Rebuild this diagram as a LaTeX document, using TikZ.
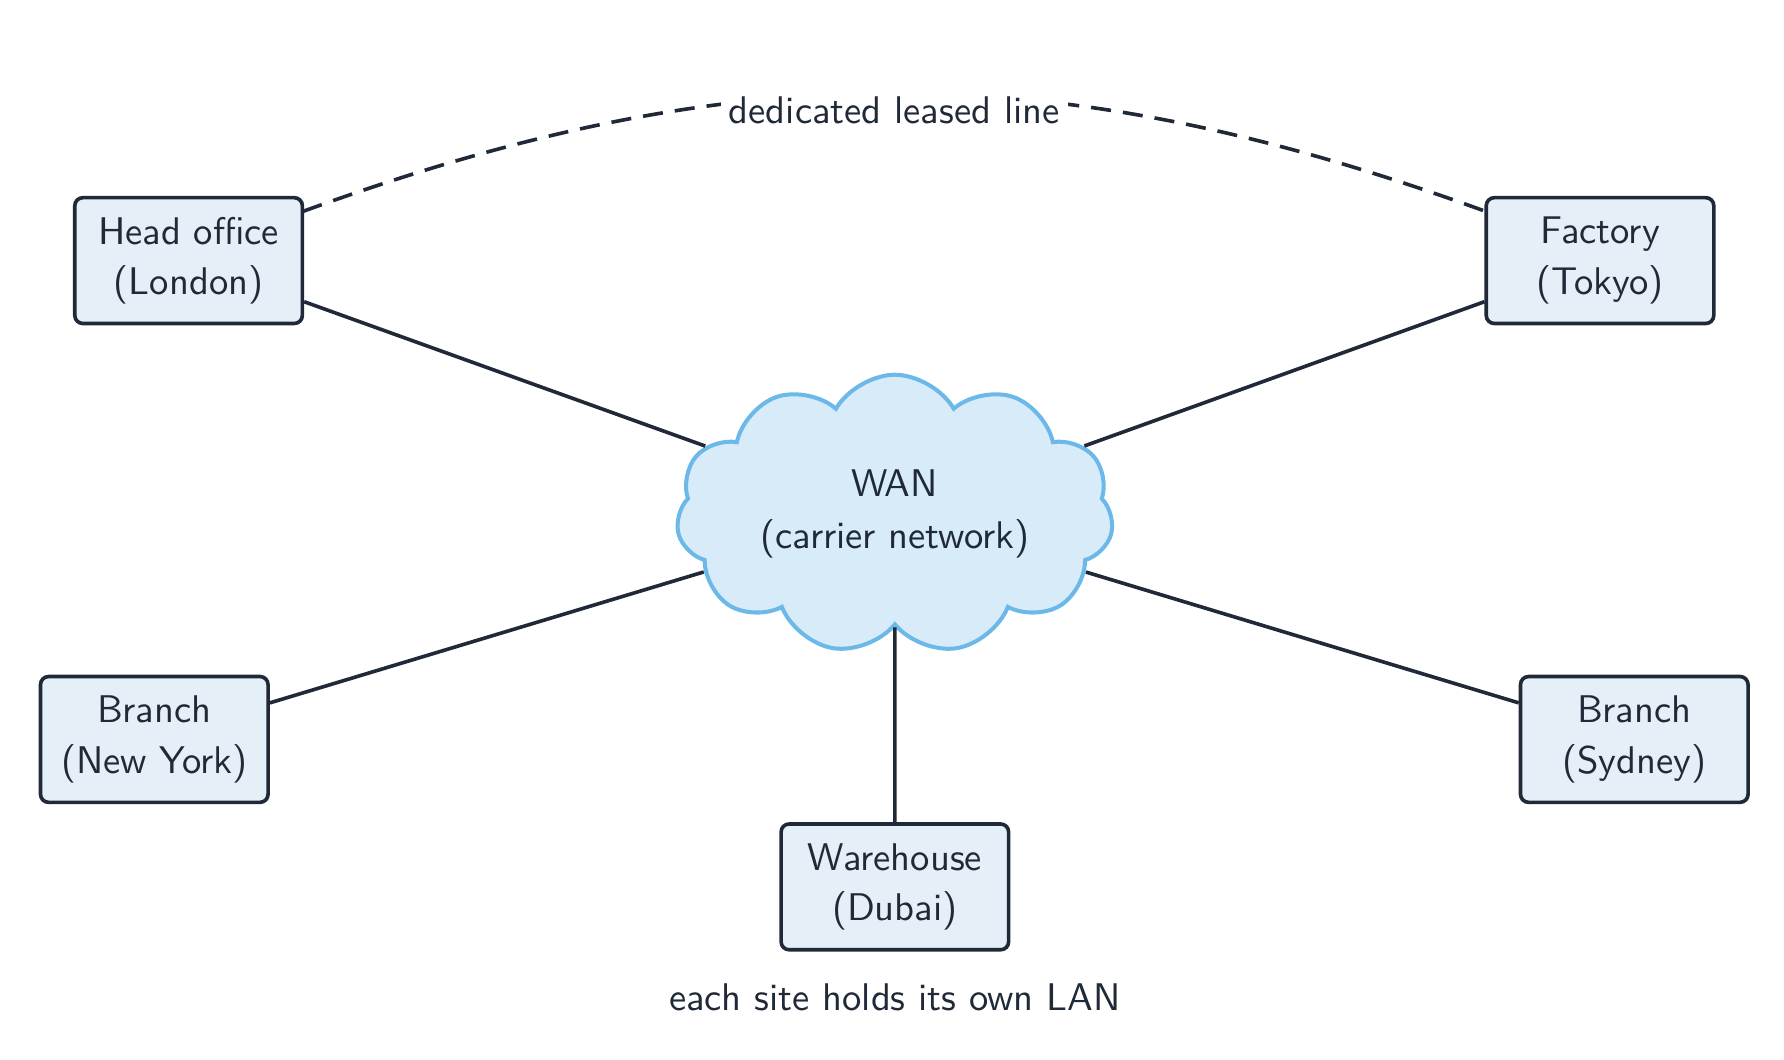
\documentclass[tikz,border=0pt]{standalone}
\usetikzlibrary{shapes.symbols}
\renewcommand{\familydefault}{\sfdefault}
\definecolor{ink}{HTML}{1F2937}
\definecolor{boxfill}{HTML}{E4EFF7}
\definecolor{cloudfill}{HTML}{D8EBF9}
\definecolor{cloudline}{HTML}{6CB8E8}
\begin{document}
\begin{tikzpicture}[x=0.01cm,y=-0.01cm,
  site/.style={draw=ink,fill=boxfill,line width=0.9pt,rounded corners=2pt,minimum width=1.99cm,minimum height=1.1cm,align=center,text=ink,font=\fontsize{9.6}{12.5}\selectfont,inner sep=0pt},
  link/.style={draw=ink,line width=0.9pt},
  lbl/.style={text=ink,font=\fontsize{9.6}{12}\selectfont}]
\useasboundingbox (0,0) rectangle (1561,927);
\node[cloud,cloud puffs=11,cloud puff arc=120,aspect=1.9,draw=cloudline,fill=cloudfill,line width=1pt,minimum width=3.65cm,minimum height=1.85cm,align=center,text=ink,font=\fontsize{9.6}{13}\selectfont] (wan) at (783,450) {WAN\\(carrier network)};
\node[site] (lon) at (165,228) {Head office\\(London)};
\node[site] (tok) at (1400,228) {Factory\\(Tokyo)};
\node[site] (ny) at (135,647) {Branch\\(New York)};
\node[site] (syd) at (1430,647) {Branch\\(Sydney)};
\node[site] (dub) at (783,776) {Warehouse\\(Dubai)};
\draw[link] (lon.east |- 0,264) -- (wan);
\draw[link] (tok.west |- 0,264) -- (wan);
\draw[link] (ny.east |- 0,615) -- (wan);
\draw[link] (syd.west |- 0,615) -- (wan);
\draw[link] (dub) -- (wan);
\coordinate (a) at (265,185);
\coordinate (b) at (1300,185);
\draw[link,dashed,dash pattern=on 5pt off 3pt] (a) to[bend left=20] node[pos=0.5,fill=white,lbl,inner sep=2pt,yshift=-0.15cm] (dl) {dedicated leased line} (b);
\node[lbl] (note) at (783,873) {each site holds its own LAN};
\end{tikzpicture}
\end{document}
